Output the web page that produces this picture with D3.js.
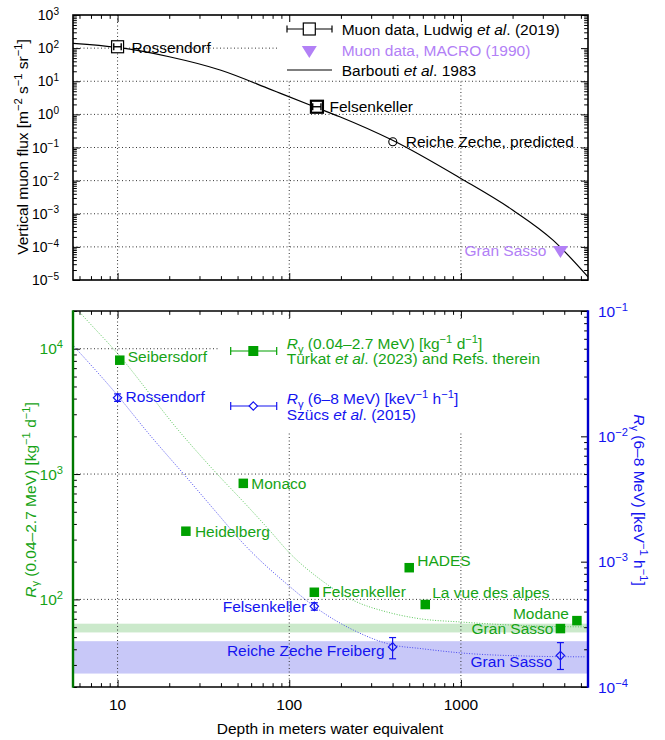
<!DOCTYPE html>
<html>
<head>
<meta charset="utf-8">
<script src="https://cdn.jsdelivr.net/npm/d3@7"></script>
<style>
  body { margin: 0; background: #fff; }
  svg { font-family: "Liberation Sans", Arial, Helvetica, sans-serif; }
</style>
</head>
<body>
<svg id="chart" width="665" height="740"></svg>
<script>
// ---------- data ----------
const depthTickValues = [10, 100, 1000];
const depthTickLabels = ["10", "100", "1000"];
const fluxTickExps = [3, 2, 1, 0, -1, -2, -3, -4, -5];
const rateLeftTickExps = [2, 3, 4];
const rateRightTickExps = [-4, -3, -2, -1];

// Barbouti et al. 1983 vertical muon flux vs depth
const barboutiDepth = [5.5, 10, 20, 40, 77, 89, 140, 197, 400, 1000, 2000, 3440, 5500];
const barboutiFlux  = [140, 105, 55, 21.5, 5.8, 4.3, 1.7, 0.85, 0.165, 0.0116, 1.3e-3, 1.6e-4, 1.24e-5];

// Muon data, Ludwig et al. (2019)
const ludwigSites = ["Rossendorf", "Felsenkeller"];
const ludwigDepth = [10, 145];
const ludwigDepthLow = [9.5, 137];
const ludwigDepthHigh = [10.5, 153];
const ludwigFlux = [110, 1.7];

// predicted flux
const predictedSites = ["Reiche Zeche, predicted"];
const predictedDepth = [401];
const predictedFlux = [0.149];

// Muon data, MACRO (1990)
const macroSites = ["Gran Sasso"];
const macroDepth = [3800];
const macroFlux = [8e-5];

// R_gamma (0.04-2.7 MeV), Turkat et al. (2023)
const turkatSites = ["Seibersdorf", "Heidelberg", "Monaco", "Felsenkeller", "HADES", "La vue des alpes", "Gran Sasso", "Modane"];
const turkatDepth = [10.3, 25, 54, 140, 500, 620, 3800, 4740];
const turkatRate  = [8100, 350, 843, 114, 179, 91, 58.5, 67.7];

// R_gamma (6-8 MeV), Szucs et al. (2015)
const szucsSites = ["Rossendorf", "Felsenkeller", "Reiche Zeche Freiberg", "Gran Sasso"];
const szucsDepth = [10, 140, 400, 3800];
const szucsRate  = [2.03e-2, 4.4e-4, 2.09e-4, 1.78e-4];
const szucsLow   = [1.9e-2, 4.1e-4, 1.68e-4, 1.38e-4];
const szucsHigh  = [2.18e-2, 4.7e-4, 2.48e-4, 2.26e-4];

// scaled-muon-flux model curves
const modelGreenDepth = [5.5, 6.07, 10.1, 23.1, 39.5, 53.6, 77.3, 100, 150, 237, 370, 576, 1000, 2620, 5370];
const modelGreenRate  = [22500, 19300, 9010, 2160, 946, 609, 352, 236, 146, 98, 79.4, 70.1, 66, 61.4, 60.3];
const modelBlueDepth = [5.55, 10, 15.1, 25.3, 39.5, 51.7, 101, 145, 237, 403, 576, 1000, 2630, 5360];
const modelBlueRate  = [0.0525, 0.0212, 0.0106, 4.68e-3, 2.29e-3, 1.49e-3, 6.31e-4, 4.24e-4, 2.84e-4, 2.16e-4, 2.03e-4, 1.87e-4, 1.76e-4, 1.74e-4];

// Gran Sasso reference bands
const greenBand = [54.5, 64];
const blueBand = [1.28e-4, 2.32e-4];

// ---------- styling ----------
const GREEN = "#00a000", GREEN_TXT = "#16a316", GREEN_AX = "#007800";
const BLUE = "#1414f0", BLUE_AX = "#0000cc";
const PURPLE = "#b280f6";
const FS = 15.5;

const svg = d3.select("#chart");
const X0 = 73, X1 = 588;
const T0 = 15, T1 = 280;     // upper panel
const B0 = 311, B1 = 687;    // lower panel

const x = d3.scaleLog().domain([5.5, 5500]).range([X0, X1]);
const yFlux = d3.scaleLog().domain([1e-5, 1e3]).range([T1, T0]);
const yL = d3.scaleLog().domain([20, 20000]).range([B1, B0]);
const yR = d3.scaleLog().domain([1e-4, 1e-1]).range([B1, B0]);

const isPow10 = v => Math.abs(Math.log10(v) - Math.round(Math.log10(v))) < 1e-9;
const minor = s => s.ticks().filter(v => !isPow10(v));

function rich(sel, parts, fs) {
  let shift = 0;
  parts.forEach(([s, k]) => {
    const t = sel.append("tspan").text(s);
    let target = 0, size = fs;
    if (k === "sup") { target = -0.38 * fs; size = 0.72 * fs; }
    if (k === "sub") { target = 0.25 * fs; size = 0.72 * fs; }
    t.attr("dy", target - shift).attr("font-size", size);
    if (k === "i") t.attr("font-style", "italic");
    shift = target;
  });
  return sel;
}
function label(g, x0, y0, parts, opts = {}) {
  const fs = opts.fs || FS;
  const t = g.append("text")
    .attr("x", x0).attr("y", y0 + 0.36 * fs)
    .attr("font-size", fs)
    .attr("fill", opts.fill || "#000")
    .attr("text-anchor", opts.anchor || "start");
  return rich(t, parts, fs);
}

const defs = svg.append("defs");
defs.append("clipPath").attr("id", "clipB")
  .append("rect").attr("x", X0).attr("y", B0).attr("width", X1 - X0).attr("height", B1 - B0);
defs.append("clipPath").attr("id", "clipT")
  .append("rect").attr("x", X0).attr("y", T0).attr("width", X1 - X0).attr("height", T1 - T0);

const gridStyle = s => s.attr("stroke", "#333").attr("stroke-width", 1).attr("stroke-dasharray", "1,2.5");

function axisTicks(g, axisFn, scale, majors, pos, len, color) {
  const a = axisFn(scale).tickValues(majors).tickSize(-len).tickFormat("");
  const m = axisFn(scale).tickValues(minor(scale)).tickSize(-len * 0.55).tickFormat("");
  const ga = g.append("g").attr("transform", pos).call(a);
  const gm = g.append("g").attr("transform", pos).call(m);
  [ga, gm].forEach(s => {
    s.select(".domain").remove();
    s.selectAll("line").attr("stroke", color || "#000").attr("stroke-width", 1);
  });
}

// ================= UPPER PANEL =================
const gTop = svg.append("g");

// grid
gTop.append("g").selectAll("line").data(fluxTickExps.filter(e => e < 3 && e > -5)).join("line")
  .attr("x1", X0).attr("x2", X1).attr("y1", e => yFlux(10 ** e)).attr("y2", e => yFlux(10 ** e))
  .call(gridStyle);
gTop.append("g").selectAll("line").data(depthTickValues).join("line")
  .attr("x1", d => x(d)).attr("x2", d => x(d)).attr("y1", T0).attr("y2", T1)
  .call(gridStyle);

// legend background
gTop.append("rect").attr("x", 279).attr("y", T0 + 1).attr("width", X1 - 279 - 1).attr("height", 63).attr("fill", "#fff");

// ticks
axisTicks(gTop, d3.axisLeft, yFlux, fluxTickExps.map(e => 10 ** e), `translate(${X0},0)`, 7);
axisTicks(gTop, d3.axisRight, yFlux, fluxTickExps.map(e => 10 ** e), `translate(${X1},0)`, 7);
axisTicks(gTop, d3.axisBottom, x, depthTickValues, `translate(0,${T1})`, 7);
axisTicks(gTop, d3.axisTop, x, depthTickValues, `translate(0,${T0})`, 7);

// Barbouti curve
const barbouti = barboutiDepth.map((d, i) => [d, barboutiFlux[i]]);
gTop.append("path").datum(barbouti)
  .attr("clip-path", "url(#clipT)")
  .attr("d", d3.line().x(d => x(d[0])).y(d => yFlux(d[1])).curve(d3.curveMonotoneX))
  .attr("fill", "none").attr("stroke", "#000").attr("stroke-width", 1.2);

// Ludwig points
ludwigDepth.forEach((d, i) => {
  const cx = x(d), cy = yFlux(ludwigFlux[i]);
  const w = i === 1 ? 2.2 : 1.2;
  const g = gTop.append("g").attr("stroke", "#000").attr("fill", "none").attr("stroke-width", w);
  g.append("rect").attr("x", cx - 6).attr("y", cy - 6).attr("width", 12).attr("height", 12).attr("fill", "#fff");
  const eb = gTop.append("g").attr("stroke", "#000").attr("stroke-width", 1.4);
  eb.append("line").attr("x1", x(ludwigDepthLow[i])).attr("x2", x(ludwigDepthHigh[i])).attr("y1", cy).attr("y2", cy);
  eb.append("line").attr("x1", x(ludwigDepthLow[i])).attr("x2", x(ludwigDepthLow[i])).attr("y1", cy - 3.5).attr("y2", cy + 3.5);
  eb.append("line").attr("x1", x(ludwigDepthHigh[i])).attr("x2", x(ludwigDepthHigh[i])).attr("y1", cy - 3.5).attr("y2", cy + 3.5);
});
label(gTop, x(ludwigDepth[0]) + 14, yFlux(ludwigFlux[0]) + 1, [[ludwigSites[0], ""]]);
label(gTop, x(ludwigDepth[1]) + 12.5, yFlux(ludwigFlux[1]), [[ludwigSites[1], ""]]);

// predicted point
gTop.append("circle").attr("cx", x(predictedDepth[0])).attr("cy", yFlux(predictedFlux[0])).attr("r", 4)
  .attr("fill", "none").attr("stroke", "#000").attr("stroke-width", 1.1);
label(gTop, x(predictedDepth[0]) + 13, yFlux(predictedFlux[0]), [[predictedSites[0], ""]]);

// MACRO
const tri = (cx, cy) => `M${cx - 7.5},${cy - 4}L${cx + 7.5},${cy - 4}L${cx},${cy + 8}Z`;
gTop.append("path").attr("d", tri(x(macroDepth[0]), yFlux(macroFlux[0]))).attr("fill", PURPLE);
label(gTop, x(macroDepth[0]) - 14, yFlux(macroFlux[0]), [[macroSites[0], ""]], { anchor: "end", fill: PURPLE });

// legend
{
  const lx = 309.3, tx = 341.7;
  const g = gTop.append("g").attr("stroke", "#000").attr("stroke-width", 1.2);
  g.append("line").attr("x1", 287).attr("x2", 332).attr("y1", 29).attr("y2", 29);
  g.append("line").attr("x1", 287).attr("x2", 287).attr("y1", 25.5).attr("y2", 32.5);
  g.append("line").attr("x1", 332).attr("x2", 332).attr("y1", 25.5).attr("y2", 32.5);
  g.append("rect").attr("x", lx - 6).attr("y", 23).attr("width", 12).attr("height", 12).attr("fill", "#fff");
  gTop.append("path").attr("d", tri(lx, 50)).attr("fill", PURPLE);
  gTop.append("line").attr("x1", 287).attr("x2", 332).attr("y1", 70).attr("y2", 70).attr("stroke", "#000").attr("stroke-width", 1.2);
  label(gTop, tx, 29, [["Muon data, Ludwig ", ""], ["et al", "i"], [". (2019)", ""]]);
  label(gTop, tx, 50, [["Muon data, MACRO (1990)", ""]], { fill: PURPLE });
  label(gTop, tx, 70, [["Barbouti ", ""], ["et al", "i"], [". 1983", ""]]);
}

// frame
gTop.append("rect").attr("x", X0).attr("y", T0).attr("width", X1 - X0).attr("height", T1 - T0)
  .attr("fill", "none").attr("stroke", "#000").attr("stroke-width", 1.6);

// tick labels
fluxTickExps.forEach(e => {
  label(gTop, 59, yFlux(10 ** e), [["10", ""], [e < 0 ? "\u2212" + (-e) : String(e), "sup"]], { anchor: "end", fs: 14 });
});
// axis title
{
  const t = gTop.append("text").attr("transform", `translate(22,147) rotate(-90)`)
    .attr("text-anchor", "middle").attr("font-size", FS).attr("y", 0.36 * FS);
  rich(t, [["Vertical muon flux [m", ""], ["\u22122", "sup"], [" s", ""], ["\u22121", "sup"], [" sr", ""], ["\u22121", "sup"], ["]", ""]], FS);
}

// ================= LOWER PANEL =================
const gBot = svg.append("g");

// bands
gBot.append("rect").attr("x", X0).attr("width", X1 - X0)
  .attr("y", yL(greenBand[1])).attr("height", yL(greenBand[0]) - yL(greenBand[1])).attr("fill", "#cbe9cb");
gBot.append("rect").attr("x", X0).attr("width", X1 - X0)
  .attr("y", yR(blueBand[1])).attr("height", yR(blueBand[0]) - yR(blueBand[1])).attr("fill", "#c8c8f8");

// grid
gBot.append("g").selectAll("line").data(rateLeftTickExps).join("line")
  .attr("x1", X0).attr("x2", X1).attr("y1", e => yL(10 ** e)).attr("y2", e => yL(10 ** e))
  .call(gridStyle);
gBot.append("g").selectAll("line").data(depthTickValues).join("line")
  .attr("x1", d => x(d)).attr("x2", d => x(d)).attr("y1", B0).attr("y2", B1)
  .call(gridStyle);

// model curves
const lineGen = (sx, sy) => d3.line().x(d => sx(d[0])).y(d => sy(d[1])).curve(d3.curveMonotoneX);
gBot.append("path").datum(modelGreenDepth.map((d, i) => [d, modelGreenRate[i]]))
  .attr("clip-path", "url(#clipB)").attr("d", lineGen(x, yL))
  .attr("fill", "none").attr("stroke", "#5cc85c").attr("stroke-width", 1).attr("stroke-dasharray", "1,1.6");
gBot.append("path").datum(modelBlueDepth.map((d, i) => [d, modelBlueRate[i]]))
  .attr("clip-path", "url(#clipB)").attr("d", lineGen(x, yR))
  .attr("fill", "none").attr("stroke", "#4848f0").attr("stroke-width", 1).attr("stroke-dasharray", "1,1.6");

// legend background
gBot.append("rect").attr("x", 219).attr("y", 321).attr("width", X1 - 219 - 2).attr("height", 111).attr("fill", "#fff");

// ticks
axisTicks(gBot, d3.axisLeft, yL, rateLeftTickExps.map(e => 10 ** e), `translate(${X0},0)`, 7);
axisTicks(gBot, d3.axisRight, yR, rateRightTickExps.map(e => 10 ** e), `translate(${X1},0)`, 7);
axisTicks(gBot, d3.axisBottom, x, depthTickValues, `translate(0,${B1})`, 7);
axisTicks(gBot, d3.axisTop, x, depthTickValues, `translate(0,${B0})`, 7);

// Turkat points
const turkatOffsets = {
  "Seibersdorf": [8, -4, "start"], "Heidelberg": [9, 0.5, "start"], "Monaco": [8, 0.5, "start"],
  "Felsenkeller": [8, -0.5, "start"], "HADES": [8, -7.5, "start"], "La vue des alpes": [7, -12, "start"],
  "Gran Sasso": [-7, -0.5, "end"], "Modane": [-8, -7, "end"]
};
gBot.append("g").selectAll("rect").data(turkatDepth.map((d, i) => [d, turkatRate[i]])).join("rect")
  .attr("x", d => x(d[0]) - 4.75).attr("y", d => yL(d[1]) - 4.75).attr("width", 9.5).attr("height", 9.5)
  .attr("fill", GREEN);
turkatSites.forEach((s, i) => {
  const o = turkatOffsets[s];
  label(gBot, x(turkatDepth[i]) + o[0], yL(turkatRate[i]) + o[1], [[s, ""]], { anchor: o[2], fill: GREEN_TXT });
});

// Szucs points
const diamond = (cx, cy, r) => `M${cx},${cy - r}L${cx + r},${cy}L${cx},${cy + r}L${cx - r},${cy}Z`;
const szucsOffsets = {
  "Rossendorf": [8, -1.5, "start"], "Felsenkeller": [-8, 0, "end"],
  "Reiche Zeche Freiberg": [-8, 3.5, "end"], "Gran Sasso": [-8, 6, "end"]
};
szucsSites.forEach((s, i) => {
  const cx = x(szucsDepth[i]), cy = yR(szucsRate[i]);
  const g = gBot.append("g").attr("stroke", BLUE).attr("stroke-width", 1.2).attr("fill", "none");
  const ylo = yR(szucsLow[i]), yhi = yR(szucsHigh[i]);
  g.append("line").attr("x1", cx).attr("x2", cx).attr("y1", yhi).attr("y2", ylo);
  g.append("line").attr("x1", cx - 3.5).attr("x2", cx + 3.5).attr("y1", yhi).attr("y2", yhi);
  g.append("line").attr("x1", cx - 3.5).attr("x2", cx + 3.5).attr("y1", ylo).attr("y2", ylo);
  g.append("path").attr("d", diamond(cx, cy, 4.2));
  const o = szucsOffsets[s];
  label(gBot, cx + o[0], cy + o[1], [[s, ""]], { anchor: o[2], fill: BLUE });
});

// legend
{
  const lx = 253.3, tx = 286.7;
  const g = gBot.append("g").attr("stroke", GREEN).attr("stroke-width", 1.2);
  g.append("line").attr("x1", 230.7).attr("x2", 276.7).attr("y1", 351).attr("y2", 351);
  g.append("line").attr("x1", 230.7).attr("x2", 230.7).attr("y1", 347).attr("y2", 355);
  g.append("line").attr("x1", 276.7).attr("x2", 276.7).attr("y1", 347).attr("y2", 355);
  gBot.append("rect").attr("x", lx - 5).attr("y", 346).attr("width", 10).attr("height", 10).attr("fill", GREEN);
  const b = gBot.append("g").attr("stroke", BLUE).attr("stroke-width", 1.2).attr("fill", "none");
  b.append("line").attr("x1", 230.7).attr("x2", 276.7).attr("y1", 406).attr("y2", 406);
  b.append("line").attr("x1", 230.7).attr("x2", 230.7).attr("y1", 402).attr("y2", 410);
  b.append("line").attr("x1", 276.7).attr("x2", 276.7).attr("y1", 402).attr("y2", 410);
  b.append("path").attr("d", diamond(lx, 406, 4.2)).attr("fill", "#fff");
  label(gBot, tx, 343.3, [["R", "i"], ["\u03b3", "sub"], [" (0.04\u20132.7 MeV) [kg", ""], ["\u22121", "sup"], [" d", ""], ["\u22121", "sup"], ["]", ""]], { fill: GREEN_TXT });
  label(gBot, tx, 358.5, [["T\u00fcrkat ", ""], ["et al", "i"], [". (2023) and Refs. therein", ""]], { fill: GREEN_TXT });
  label(gBot, tx, 398.3, [["R", "i"], ["\u03b3", "sub"], [" (6\u20138 MeV) [keV", ""], ["\u22121", "sup"], [" h", ""], ["\u22121", "sup"], ["]", ""]], { fill: BLUE });
  label(gBot, tx, 414, [["Sz\u00fccs ", ""], ["et al", "i"], [". (2015)", ""]], { fill: BLUE });
}

// frame
gBot.append("line").attr("x1", X0).attr("x2", X1).attr("y1", B0).attr("y2", B0).attr("stroke", "#000").attr("stroke-width", 1.6);
gBot.append("line").attr("x1", X0).attr("x2", X1).attr("y1", B1).attr("y2", B1).attr("stroke", "#000").attr("stroke-width", 1.6);
gBot.append("line").attr("x1", X0).attr("x2", X0).attr("y1", B0 - 0.8).attr("y2", B1 + 0.8).attr("stroke", GREEN_AX).attr("stroke-width", 2.4);
gBot.append("line").attr("x1", X1).attr("x2", X1).attr("y1", B0 - 0.8).attr("y2", B1 + 0.8).attr("stroke", BLUE_AX).attr("stroke-width", 2.4);

// tick labels
rateLeftTickExps.forEach(e => {
  label(gBot, 63, yL(10 ** e), [["10", ""], [String(e), "sup"]], { anchor: "end", fill: GREEN_TXT });
});
rateRightTickExps.forEach(e => {
  label(gBot, 598, yR(10 ** e), [["10", ""], ["\u2212" + (-e), "sup"]], { fill: BLUE });
});
depthTickValues.forEach((d, i) => {
  svg.append("text").attr("x", x(d)).attr("y", 710).attr("text-anchor", "middle")
    .attr("font-size", FS).text(depthTickLabels[i]);
});

// axis titles
svg.append("text").attr("x", 330).attr("y", 733.5).attr("text-anchor", "middle")
  .attr("font-size", FS).text("Depth in meters water equivalent");
{
  const t = gBot.append("text").attr("transform", `translate(30,500) rotate(-90)`)
    .attr("text-anchor", "middle").attr("font-size", FS).attr("y", 0.36 * FS).attr("fill", GREEN_TXT);
  rich(t, [["R", "i"], ["\u03b3", "sub"], [" (0.04\u20132.7 MeV) [kg", ""], ["\u22121", "sup"], [" d", ""], ["\u22121", "sup"], ["]", ""]], FS);
  const r = gBot.append("text").attr("transform", `translate(640,500) rotate(90)`)
    .attr("text-anchor", "middle").attr("font-size", FS).attr("y", 0.36 * FS).attr("fill", BLUE);
  rich(r, [["R", "i"], ["\u03b3", "sub"], [" (6\u20138 MeV) [keV", ""], ["\u22121", "sup"], [" h", ""], ["\u22121", "sup"], ["]", ""]], FS);
}
</script>
</body>
</html>
